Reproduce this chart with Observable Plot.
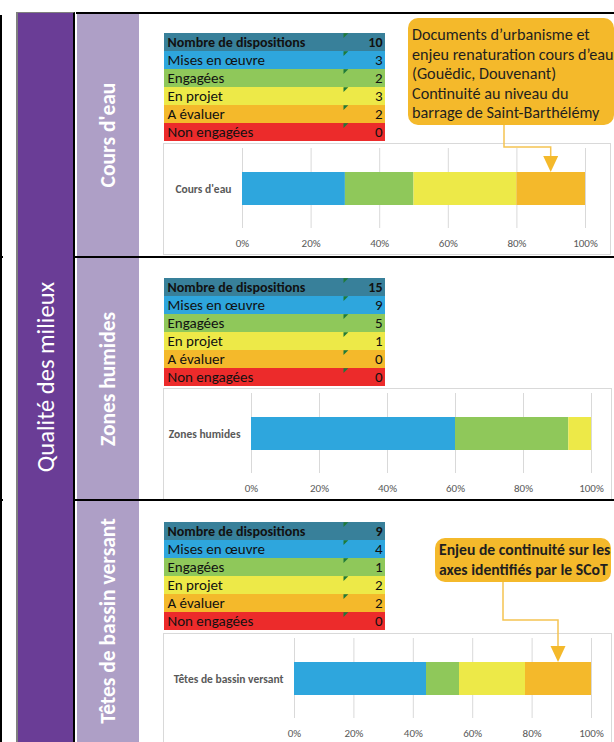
<!DOCTYPE html>
<html><head><meta charset="utf-8">
<script src="https://cdn.jsdelivr.net/npm/d3@7"></script>
<script src="https://cdn.jsdelivr.net/npm/@observablehq/plot@0.6"></script>
<style>
html,body{margin:0;padding:0;background:#fff;}
#page{position:relative;width:614px;height:742px;overflow:hidden;background:#fff;font-family:Carlito,Lato,sans-serif;}
.abs{position:absolute;}
.vlabel{position:absolute;color:#fff;white-space:nowrap;transform:translate(-50%,-50%) rotate(-90deg);}
.callout{position:absolute;background:#f4b92b;border-radius:10px;color:#1f1f1f;box-sizing:border-box;white-space:nowrap;}
.box{position:absolute;border:1px solid #d9d9d9;box-sizing:border-box;background:#fff;}
</style></head>
<body><div id="page"></div>
<script>
// ---------- data ----------
const statuses = ["Mises en œuvre", "Engagées", "En projet", "A évaluer", "Non engagées"];
const statusColors = ["#2ea6dd", "#8fc85a", "#ede948", "#f4b92b", "#ec2b2b"];
const headerLabel = "Nombre de dispositions";
const headerColor = "#38809a";
const groupLabel = "Qualité des milieux";
const themes = ["Cours d'eau", "Zones humides", "Têtes de bassin versant"];
const totals = [10, 15, 9];
const coursDeauCounts = [3, 2, 3, 2, 0];
const zonesHumidesCounts = [9, 5, 1, 0, 0];
const tetesCounts = [4, 1, 2, 2, 0];
const percentTicks = [0, 0.2, 0.4, 0.6, 0.8, 1];
const callout1Lines = ["Documents d’urbanisme et", "enjeu renaturation cours d’eau", "(Gouëdic, Douvenant)", "Continuité au niveau du", "barrage de Saint-Barthélémy"];
const callout3Lines = ["Enjeu de continuité sur les", "axes identifiés par le SCoT"];

// ---------- layout ----------
const FONT = "Carlito, Lato, sans-serif";
const sections = [
  {theme: 0, counts: coursDeauCounts, top: 13, bottom: 257, tableTop: 31, boxTop: 143, boxLeft: 163, boxWidth: 448, marginLeft: 79, marginRight: 26,
   callout: {lines: callout1Lines, left: 408, top: 18, width: 206, height: 107, fontSize: 16.2, weight: 400, lineHeight: 19.5, padTop: 7, anchorX: 504, elbowY: 147, target: 3}},
  {theme: 1, counts: zonesHumidesCounts, top: 257, bottom: 500, tableTop: 276, boxTop: 388, boxLeft: 163, boxWidth: 449, marginLeft: 88, marginRight: 21, callout: null},
  {theme: 2, counts: tetesCounts, top: 500, bottom: 742, tableTop: 520, boxTop: 633, boxLeft: 163, boxWidth: 449, marginLeft: 131, marginRight: 21,
   callout: {lines: callout3Lines, left: 435, top: 538, width: 176, height: 44, fontSize: 15.7, weight: 700, lineHeight: 20, padTop: 2, anchorX: 503, elbowY: 620, target: 3}}
];

const page = document.getElementById("page");
function div(cls, styles, text) {
  const d = document.createElement("div");
  if (cls) d.className = cls;
  Object.assign(d.style, styles);
  if (text != null) d.textContent = text;
  page.appendChild(d);
  return d;
}

// frame
div("abs", {left: "0px", top: "15px", width: "2px", height: "727px", background: "#000"});
div("abs", {left: "0px", top: "256px", width: "3px", height: "2px", background: "#000"});
div("abs", {left: "0px", top: "499px", width: "3px", height: "2px", background: "#000"});
div("abs", {left: "16px", top: "12px", width: "59px", height: "730px", background: "#6a3d96", borderLeft: "2px solid #7f7f7f", borderTop: "1px solid #7f7f7f", borderRight: "2px solid #000", boxSizing: "border-box"});
div("abs", {left: "76px", top: "13px", width: "63px", height: "729px", background: "#ae9fc6", borderLeft: "1px solid #fff", boxSizing: "border-box"});
div("abs", {left: "76px", top: "12px", width: "538px", height: "2px", background: "#000"});
div("vlabel", {left: "46px", top: "377px", fontSize: "24.5px", fontWeight: "400"}, groupLabel);

const overlay = d3.create("svg").attr("width", 614).attr("height", 742)
  .style("position", "absolute").style("left", "0px").style("top", "0px").style("pointer-events", "none").style("overflow", "visible");

function cornerSymbolDraw(ctx, size) {
  const s = Math.sqrt(size) * 0.9;
  ctx.moveTo(0, 0); ctx.lineTo(s, 0); ctx.lineTo(0, s); ctx.closePath();
}
const cornerSymbol = {draw: cornerSymbolDraw};

function tablePlot(total, counts) {
  const rows = [{label: headerLabel, value: total, header: true}]
    .concat(statuses.map((s, i) => ({label: s, value: counts[i], header: false})));
  return Plot.plot({
    width: 221, height: 112, margin: 0,
    x: {domain: [0, 1], axis: null},
    y: {domain: rows.map(d => d.label), axis: null, padding: 0},
    color: {domain: [headerLabel, ...statuses], range: [headerColor, ...statusColors]},
    style: {background: "transparent", fontFamily: FONT, fontSize: "15px", color: "#111", overflow: "visible"},
    marks: [
      Plot.barX(rows, {x1: 0, x2: 1, y: "label", fill: "label"}),
      Plot.dot(rows, {x: 0.81, y: "label", dy: -9.3, symbol: cornerSymbol, r: 3, fill: "#1f7a3a"}),
      Plot.text(rows.filter(d => d.header), {x: 0, y: "label", text: "label", textAnchor: "start", dx: 3, fontWeight: "bold", fontSize: 14, fill: "#111"}),
      Plot.text(rows.filter(d => !d.header), {x: 0, y: "label", text: "label", textAnchor: "start", dx: 3, fill: "#111"}),
      Plot.text(rows.filter(d => d.header), {x: 1, y: "label", text: "value", textAnchor: "end", dx: -3, fontWeight: "bold", fontSize: 14, fill: "#111"}),
      Plot.text(rows.filter(d => !d.header), {x: 1, y: "label", text: "value", textAnchor: "end", dx: -3, fill: "#111"})
    ]
  });
}

function barPlot(sec) {
  const theme = themes[sec.theme];
  const total = totals[sec.theme];
  const rows = statuses.map((s, i) => ({theme, status: s, share: sec.counts[i] / total}));
  const chart = Plot.plot({
    width: sec.boxWidth, height: 112, marginLeft: sec.marginLeft, marginRight: sec.marginRight, marginTop: 5, marginBottom: 27,
    style: {background: "transparent", fontFamily: FONT, fontSize: "11px", color: "#595959", overflow: "visible"},
    x: {domain: [0, 1], ticks: percentTicks, tickFormat: d3.format(".0%"), tickSize: 0, tickPadding: 11, label: null},
    y: {domain: [theme], axis: null, padding: 0.416},
    color: {domain: statuses, range: statusColors},
    marks: [
      Plot.ruleX(percentTicks, {stroke: "#d9d9d9"}),
      Plot.barX(rows, Plot.stackX({x: "share", y: "theme", fill: "status"})),
      Plot.text([theme], {x: 0, y: d => d, text: d => d, textAnchor: "end", dx: -11, fontWeight: "bold", fontSize: 11.5, fill: "#595959"})
    ]
  });
  return {chart, rows, theme};
}

sections.forEach(sec => {
  // vertical theme label
  div("vlabel", {left: "108px", top: ((sec.top + sec.bottom) / 2) + "px", fontSize: "21.5px", fontWeight: "700"}, themes[sec.theme]);
  // separator
  if (sec.top > 13) div("abs", {left: "75px", top: (sec.top - 1) + "px", width: "539px", height: "2px", background: "#000"});
  // table
  const t = tablePlot(totals[sec.theme], sec.counts);
  t.style.position = "absolute"; t.style.left = "164px"; t.style.top = sec.tableTop + "px";
  page.appendChild(t);
  // chart box
  div("box", {left: sec.boxLeft + "px", top: sec.boxTop + "px", width: sec.boxWidth + "px", height: "112px"});
  const {chart, rows, theme} = barPlot(sec);
  chart.style.position = "absolute"; chart.style.left = sec.boxLeft + "px"; chart.style.top = sec.boxTop + "px";
  page.appendChild(chart);
  // callout
  if (sec.callout) {
    const c = sec.callout;
    const box = div("callout", {left: c.left + "px", top: c.top + "px", width: c.width + "px", height: c.height + "px",
      fontSize: c.fontSize + "px", fontWeight: c.weight, lineHeight: c.lineHeight + "px", paddingTop: c.padTop + "px", paddingLeft: "4px"});
    c.lines.forEach(l => { const ln = document.createElement("div"); ln.textContent = l; box.appendChild(ln); });
    const before = d3.sum(rows.slice(0, c.target), d => d.share);
    const mid = before + rows[c.target].share / 2;
    const tipX = sec.boxLeft + chart.scale("x").apply(mid);
    const tipY = sec.boxTop + chart.scale("y").apply(theme);
    const y0 = c.top + c.height;
    overlay.append("path")
      .attr("d", `M${c.anchorX},${y0}V${c.elbowY}H${tipX}V${tipY - 15}`)
      .attr("fill", "none").attr("stroke", "#f5c451").attr("stroke-width", 1.5);
    overlay.append("path")
      .attr("d", `M${tipX - 7.5},${tipY - 16}L${tipX + 7.5},${tipY - 16}L${tipX},${tipY}Z`)
      .attr("fill", "#f4b92b");
  }
});
page.appendChild(overlay.node());
</script>
</body></html>
